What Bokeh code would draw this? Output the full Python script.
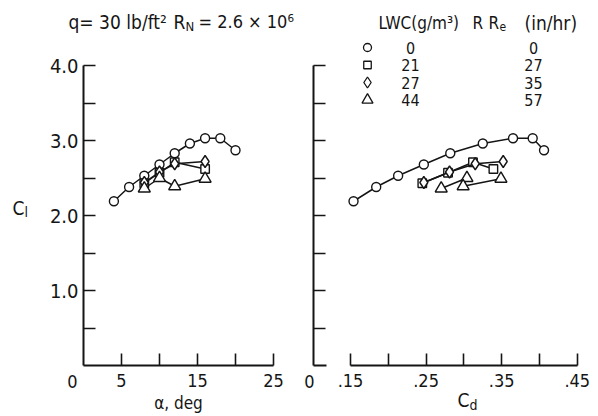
from bokeh.plotting import figure
from bokeh.layouts import row
from bokeh.models import (Range1d, FixedTicker, Label,
                          CustomJSTickFormatter, NumeralTickFormatter)
from bokeh.embed import file_html
from bokeh.resources import INLINE

FONT = "DejaVu Sans Condensed"
INK = "#151515"

# ---------------- data ----------------
series_lwc = ["0", "21", "27", "44"]
series_rre = ["0", "27", "35", "57"]
series_marker = ["circle", "square", "diamond", "triangle"]
series_size = [9, 8.5, 12, 12]

alpha_lwc0 = [4, 6, 8, 10, 12, 14, 16, 18, 20]
cl_lwc0 = [2.19, 2.38, 2.53, 2.68, 2.83, 2.96, 3.03, 3.03, 2.87]
cd_lwc0 = [0.154, 0.184, 0.213, 0.247, 0.282, 0.325, 0.365, 0.391, 0.406]

alpha_lwc21 = [8, 10, 12, 16]
cl_lwc21 = [2.43, 2.57, 2.71, 2.62]
cd_lwc21 = [0.245, 0.279, 0.312, 0.339]

alpha_lwc27 = [8, 10, 12, 16]
cl_lwc27 = [2.44, 2.58, 2.69, 2.72]
cd_lwc27 = [0.247, 0.281, 0.315, 0.352]

alpha_lwc44 = [8, 10, 12, 16]
cl_lwc44 = [2.36, 2.50, 2.39, 2.49]
cd_lwc44 = [0.270, 0.304, 0.299, 0.349]

alpha_ticks_major = [5, 15, 25]
alpha_ticks_minor = [10, 20]
cl_ticks_major = [1, 2, 3, 4]
cl_ticks_minor = [0.5, 1.5, 2.5, 3.5]
cd_ticks_major = [0.15, 0.25, 0.35, 0.45]
cd_ticks_minor = [0.20, 0.30, 0.40]

alphas = [alpha_lwc0, alpha_lwc21, alpha_lwc27, alpha_lwc44]
cls = [cl_lwc0, cl_lwc21, cl_lwc27, cl_lwc44]
cds = [cd_lwc0, cd_lwc21, cd_lwc27, cd_lwc44]

# ---------------- layout (image pixel geometry) ----------------
FIG_H = 414
FRAME_BOTTOM = 365      # image y of Cl = 0
PX_CL = 75.0            # px per unit Cl
A_W, A_ORIGIN = 298, 83  # image x of alpha = 0
PX_A = 7.6              # px per degree
B_X0, B_W, B_ORIGIN = 298, 298, 313
PX_B = 756.0            # px per unit Cd
CD_REF_X = 350          # image x of Cd = 0.15


def ya(img_y):
    return (FRAME_BOTTOM - img_y) / PX_CL


def xa(img_x):
    return (img_x - A_ORIGIN) / PX_A


def xb(img_x):
    return 0.15 + (img_x - CD_REF_X) / PX_B


def make_fig(w, xr):
    p = figure(width=w, height=FIG_H, output_backend="svg", toolbar_location=None,
               x_range=xr, y_range=Range1d(ya(FIG_H), ya(0)),
               min_border_left=0, min_border_right=0, min_border_top=0,
               min_border_bottom=0)
    p.outline_line_color = None
    p.xgrid.visible = False
    p.ygrid.visible = False
    p.background_fill_color = "white"
    p.border_fill_color = "white"
    return p


def style_axis(ax, standoff, size="18px"):
    ax.axis_line_width = 2
    ax.axis_line_color = INK
    ax.major_tick_in = 12
    ax.major_tick_out = 0
    ax.minor_tick_in = 12
    ax.minor_tick_out = 0
    ax.major_tick_line_width = 1.6
    ax.minor_tick_line_width = 1.6
    ax.major_tick_line_color = INK
    ax.minor_tick_line_color = INK
    ax.major_label_text_font = FONT
    ax.major_label_text_font_size = size
    ax.major_label_text_color = INK
    ax.major_label_standoff = standoff


def text(p, x, y, t, size, align="left"):
    p.add_layout(Label(x=x, y=y, text=t, text_font=FONT, text_font_size=size,
                       text_color=INK, text_align=align, text_baseline="middle"))


def draw_series(p, xs_list):
    for xs, ys, m, s in zip(xs_list, cls, series_marker, series_size):
        p.line(xs, ys, line_color=INK, line_width=1.5)
        p.scatter(xs, ys, marker=m, size=s, fill_color="white",
                  line_color=INK, line_width=1.4)


# ---------------- left panel: Cl vs alpha ----------------
pa = make_fig(A_W, Range1d(xa(0), xa(A_W)))
style_axis(pa.xaxis[0], 8)
pa.xaxis[0].fixed_location = 0
pa.xaxis[0].ticker = FixedTicker(ticks=alpha_ticks_major, minor_ticks=alpha_ticks_minor)
pa.xaxis[0].bounds = (0, 25)
style_axis(pa.yaxis[0], 5, "20px")
pa.yaxis[0].fixed_location = 0
pa.yaxis[0].ticker = FixedTicker(ticks=cl_ticks_major, minor_ticks=cl_ticks_minor)
pa.yaxis[0].formatter = NumeralTickFormatter(format="0.0")
pa.yaxis[0].bounds = (0, 4)
draw_series(pa, alphas)

text(pa, xa(72), ya(381), "0", "18px", "center")
text(pa, xa(178), ya(402), "\u03b1, deg", "17px", "center")
text(pa, xa(12), ya(207), "C", "19px")
text(pa, xa(24), ya(211), "l", "14px")
# title
text(pa, xa(68), ya(21), "q= 30 lb/ft\u00b2", "19px")
text(pa, xa(173), ya(21), "R", "19px")
text(pa, xa(185), ya(26), "N", "13px")
text(pa, xa(198), ya(21), "= 2.6 \u00d7 10\u2076", "18px")

# ---------------- right panel: Cl vs Cd ----------------
pb = make_fig(B_W, Range1d(xb(B_X0), xb(B_X0 + B_W)))
style_axis(pb.xaxis[0], 8)
pb.xaxis[0].fixed_location = 0
pb.xaxis[0].ticker = FixedTicker(ticks=cd_ticks_major, minor_ticks=cd_ticks_minor)
pb.xaxis[0].formatter = CustomJSTickFormatter(code="return tick.toFixed(2).replace(/^0/, '');")
pb.xaxis[0].bounds = (0.15, 0.45)
style_axis(pb.yaxis[0], 5)
pb.yaxis[0].fixed_location = xb(B_ORIGIN)
pb.yaxis[0].ticker = FixedTicker(ticks=cl_ticks_major, minor_ticks=cl_ticks_minor)
pb.yaxis[0].formatter = CustomJSTickFormatter(code="return '';")
pb.yaxis[0].bounds = (0, 4)
draw_series(pb, cds)
# axis-break stub at the origin
pb.segment(x0=[xb(B_ORIGIN)], y0=[0], x1=[xb(326)], y1=[0], line_color=INK, line_width=2)

text(pb, xb(309), ya(381), "0", "18px", "center")
text(pb, xb(457), ya(399), "C", "19px")
text(pb, xb(469), ya(404), "d", "14px")

# key: symbol, LWC, RRe
ROW = 17.5
for i in range(4):
    yy = ya(47 + i * ROW)
    pb.scatter([xb(367)], [yy], marker=series_marker[i], size=series_size[i] - 1,
               fill_color="white", line_color=INK, line_width=1.3)
    text(pb, xb(410), yy, series_lwc[i], "16px", "center")
    text(pb, xb(533), yy, series_rre[i], "16px", "center")
text(pb, xb(378), ya(22), "LWC(g/m\u00b3)", "17px")
text(pb, xb(472), ya(22), "R", "17px")
text(pb, xb(488), ya(22), "R", "17px")
text(pb, xb(499), ya(26), "e", "12px")
text(pb, xb(524), ya(22), "(in/hr)", "19px")

layout = row(pa, pb)
open("out.html", "w").write(file_html(layout, INLINE))
